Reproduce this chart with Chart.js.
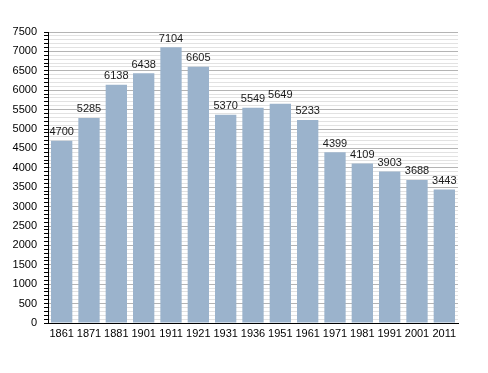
<!DOCTYPE html>
<html>
<head>
<meta charset="utf-8">
<script src="https://cdn.jsdelivr.net/npm/chart.js@4.4.0/dist/chart.umd.min.js"></script>
<style>
  html, body { margin: 0; padding: 0; background: #fff; }
  #wrap { width: 488px; height: 373px; }
</style>
</head>
<body>
<div id="wrap"><canvas id="grafico" width="488" height="373"></canvas></div>
<script>
// Años del censo y población
const anios = ['1861', '1871', '1881', '1901', '1911', '1921', '1931', '1936', '1951', '1961', '1971', '1981', '1991', '2001', '2011'];
const poblacion = [4700, 5285, 6138, 6438, 7104, 6605, 5370, 5549, 5649, 5233, 4399, 4109, 3903, 3688, 3443];
const ejeMax = 7500;
const pasoMenor = 100;
const pasoMayor = 500;

// Plugin para escribir el valor encima de cada barra
const etiquetasBarras = {
    id: 'etiquetasBarras',
    afterDatasetsDraw(chart) {
        const ctx = chart.ctx;
        const meta = chart.getDatasetMeta(0);
        ctx.save();
        ctx.font = '11px "Liberation Sans", Arial, sans-serif';
        ctx.fillStyle = '#1a1a1a';
        ctx.textAlign = 'center';
        ctx.textBaseline = 'bottom';
        meta.data.forEach((bar, i) => {
            ctx.fillText(poblacion[i], bar.x, bar.y - 3);
        });
        ctx.restore();
    }
};

new Chart(document.getElementById('grafico').getContext('2d'), {
    type: 'bar',
    data: {
        labels: anios,
        datasets: [{
            data: poblacion,
            backgroundColor: '#9bb3cc',
            borderWidth: 0,
            categoryPercentage: 1,
            barPercentage: 0.78
        }]
    },
    options: {
        responsive: false,
        animation: false,
        layout: { padding: { top: 32, right: 30, left: 0, bottom: 0 } },
        plugins: {
            legend: { display: false },
            tooltip: { enabled: false }
        },
        scales: {
            x: {
                grid: { display: false, drawTicks: false },
                border: { color: '#000', width: 1 },
                ticks: {
                    color: '#000',
                    font: { family: '"Liberation Sans", Arial, sans-serif', size: 11 },
                    padding: 4,
                    maxRotation: 0,
                    autoSkip: false
                },
                afterFit(scale) { scale.height = 50; }
            },
            y: {
                min: 0,
                max: ejeMax,
                border: { color: '#000', width: 1 },
                grid: {
                    color: c => (c.tick.value % pasoMayor === 0 ? '#b4b4b4' : '#e2e2e2'),
                    tickColor: '#000',
                    tickLength: 4,
                    drawTicks: true
                },
                ticks: {
                    stepSize: pasoMenor,
                    autoSkip: false,
                    color: '#000',
                    padding: 7,
                    font: { family: '"Liberation Sans", Arial, sans-serif', size: 11 },
                    callback: v => (v % pasoMayor === 0 ? String(v) : '')
                },
                afterFit(scale) { scale.width = 48; }
            }
        }
    },
    plugins: [etiquetasBarras]
});
</script>
</body>
</html>
